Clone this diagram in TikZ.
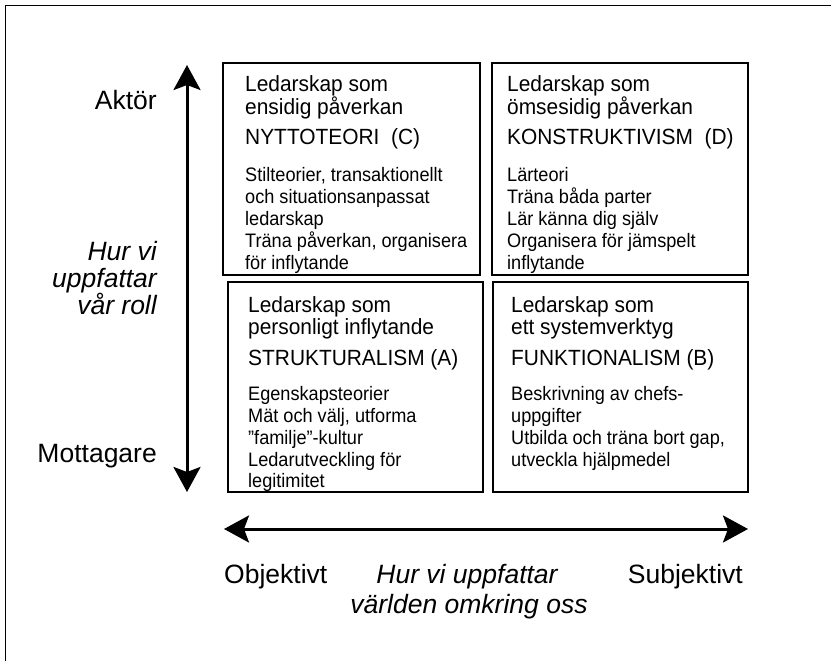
\documentclass[tikz,border=0pt]{standalone}
\usepackage{fontspec}
\setmainfont{Liberation Sans}
\newfontfamily\headfont{Liberation Sans}[FakeStretch=0.95]
\newfontfamily\bodyfont{Liberation Sans}[FakeStretch=0.93]
\usetikzlibrary{arrows.meta}
\begin{document}
\begin{tikzpicture}[x=1pt,y=-1pt,
  frameline/.style={line width=1.6pt},
  qbox/.style={draw, line width=2pt, anchor=north west, inner sep=0pt, outer sep=0pt},
  axisarrow/.style={line width=3pt, {Stealth[length=25pt,width=27pt,inset=5pt]}-{Stealth[length=25pt,width=27pt,inset=5pt]}},
  lbl/.style={font=\fontsize{26.5}{27}\selectfont, inner sep=0pt},
  lblit/.style={font=\fontsize{26.5}{27}\selectfont\itshape, inner sep=0pt},
  head/.style={font=\headfont\fontsize{22}{22}\selectfont, inner sep=0pt, anchor=base west},
  body/.style={font=\bodyfont\fontsize{19.5}{22}\selectfont, inner sep=0pt, anchor=base west},
]
\useasboundingbox (0,0) rectangle (831,661);
% outer frame (top and left edges visible)
\draw[frameline] (5.5,661) -- (5.5,5.5) -- (831,5.5);

% quadrant boxes
\node[qbox, minimum width=257pt, minimum height=212pt] (tl) at (223,63) {};
\node[qbox, minimum width=256pt, minimum height=212pt] (tr) at (492,63) {};
\node[qbox, minimum width=255pt, minimum height=210pt] (bl) at (228,282) {};
\node[qbox, minimum width=255pt, minimum height=210pt] (br) at (493,282) {};

% axes
\coordinate (vtop) at (187,65);
\coordinate (vbot) at (187,492);
\draw[axisarrow] (vbot) -- (vtop);
\coordinate (hleft) at (224,529);
\coordinate (hright) at (748,529);
\draw[axisarrow] (hleft) -- (hright);

% vertical axis labels
\node[lbl, anchor=base east] (aktor) at (157,110) {Aktör};
\node[lblit, anchor=base east] (roll1) at (157,260) {Hur vi};
\node[lblit, anchor=base east] (roll2) at (157,287) {uppfattar};
\node[lblit, anchor=base east] (roll3) at (157,314) {vår roll};
\node[lbl, anchor=base east] (mottagare) at (157,462) {Mottagare};

% horizontal axis labels
\node[lbl, anchor=base west] (objektivt) at (224,583) {Objektivt};
\node[lbl, anchor=base east] (subjektivt) at (743,583) {Subjektivt};
\node[lblit, anchor=base] (varld1) at (467,583) {Hur vi uppfattar};
\node[lblit, anchor=base] (varld2) at (469,613) {världen omkring oss};

% top-left box (C)
\node[head] (tlh1) at (245,92) {Ledarskap som};
\node[head] (tlh2) at (245,114) {ensidig påverkan};
\node[head] (tlh3) at (245,145) {NYTTOTEORI\ \ (C)};
\node[body] (tlb1) at (245,181) {Stilteorier, transaktionellt};
\node[body] (tlb2) at (245,203) {och situationsanpassat};
\node[body] (tlb3) at (245,225) {ledarskap};
\node[body] (tlb4) at (245,247) {Träna påverkan, organisera};
\node[body] (tlb5) at (245,269) {för inflytande};

% top-right box (D)
\node[head] (trh1) at (507,92) {Ledarskap som};
\node[head] (trh2) at (507,114) {ömsesidig påverkan};
\node[head] (trh3) at (507,145) {KONSTRUKTIVISM\ \ (D)};
\node[body] (trb1) at (507,181) {Lärteori};
\node[body] (trb2) at (507,203) {Träna båda parter};
\node[body] (trb3) at (507,225) {Lär känna dig själv};
\node[body] (trb4) at (507,247) {Organisera för jämspelt};
\node[body] (trb5) at (507,269) {inflytande};

% bottom-left box (A)
\node[head] (blh1) at (248,312) {Ledarskap som};
\node[head] (blh2) at (248,334) {personligt inflytande};
\node[head] (blh3) at (248,365) {STRUKTURALISM (A)};
\node[body] (blb1) at (248,400) {Egenskapsteorier};
\node[body] (blb2) at (248,422) {Mät och välj, utforma};
\node[body] (blb3) at (248,444) {”familje”-kultur};
\node[body] (blb4) at (248,466) {Ledarutveckling för};
\node[body] (blb5) at (248,487) {legitimitet};

% bottom-right box (B)
\node[head] (brh1) at (511,312) {Ledarskap som};
\node[head] (brh2) at (511,334) {ett systemverktyg};
\node[head] (brh3) at (511,365) {FUNKTIONALISM (B)};
\node[body] (brb1) at (511,400) {Beskrivning av chefs-};
\node[body] (brb2) at (511,422) {uppgifter};
\node[body] (brb3) at (511,444) {Utbilda och träna bort gap,};
\node[body] (brb4) at (511,466) {utveckla hjälpmedel};
\end{tikzpicture}
\end{document}
